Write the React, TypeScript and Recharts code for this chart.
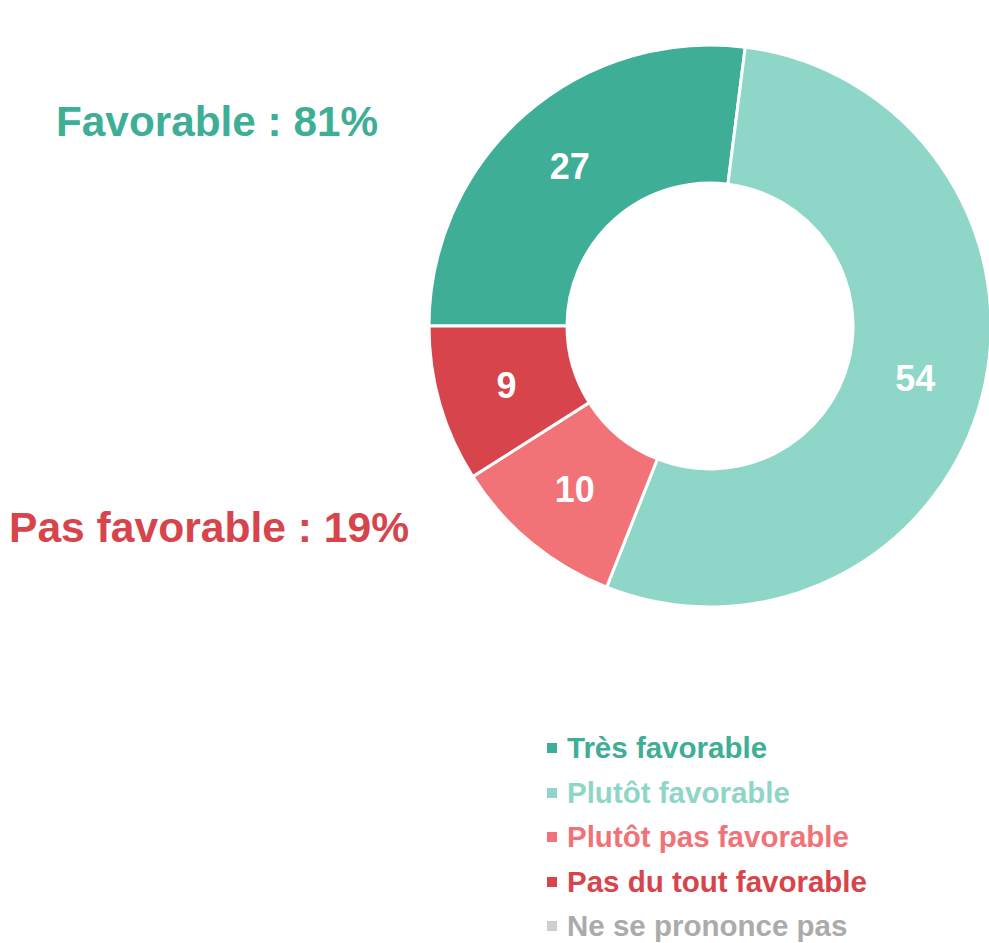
import { Cell, Legend, Pie, PieChart } from 'recharts';

// Opinion split (percent of respondents)
const CATEGORIES = [
  'Très favorable',
  'Plutôt favorable',
  'Plutôt pas favorable',
  'Pas du tout favorable',
  'Ne se prononce pas',
];
const VALUES = [27, 54, 10, 9, 0];
const COLORS = ['#3FAE96', '#8ED6C8', '#F17378', '#D7444B', '#CFCFCF'];
const TEXT_COLORS = ['#3FAE96', '#8ED6C8', '#F17378', '#D7444B', '#ABABAB'];

const FONT = '"Liberation Sans", Arial, sans-serif';
const RAD = Math.PI / 180;

const favorable = VALUES[0] + VALUES[1];
const unfavorable = VALUES[2] + VALUES[3];

const rows = CATEGORIES.map((name, i) => ({ name, value: VALUES[i], color: COLORS[i] }))
  .filter((r) => r.value > 0);

function SliceLabel(props: any) {
  const { cx, cy, midAngle, innerRadius, outerRadius, value } = props;
  const r = (innerRadius + outerRadius) / 2;
  const x = cx + r * Math.cos(-midAngle * RAD);
  const y = cy + r * Math.sin(-midAngle * RAD);
  return (
    <text
      x={x}
      y={y}
      fill="#fff"
      textAnchor="middle"
      dominantBaseline="central"
      style={{ fontFamily: FONT, fontWeight: 700, fontSize: 36 }}
    >
      {value}
    </text>
  );
}

function LegendBlock() {
  return (
    <div style={{ fontFamily: FONT, fontWeight: 700, fontSize: 29.5 }}>
      {CATEGORIES.map((name, i) => (
        <div
          key={name}
          style={{ display: 'flex', alignItems: 'center', height: 44.5, lineHeight: '44.5px' }}
        >
          <span style={{ width: 10, height: 10, background: COLORS[i], marginRight: 10 }} />
          <span style={{ color: TEXT_COLORS[i], whiteSpace: 'nowrap' }}>{name}</span>
        </div>
      ))}
    </div>
  );
}

export default function App() {
  return (
    <div
      style={{
        position: 'fixed',
        left: 0,
        top: 0,
        width: 989,
        height: 943,
        overflow: 'hidden',
        background: '#fff',
        fontFamily: FONT,
      }}
    >
      <PieChart width={989} height={943} margin={{ top: 0, right: 0, bottom: 0, left: 0 }}>
        <Pie
          data={rows}
          dataKey="value"
          nameKey="name"
          cx={710}
          cy={326}
          innerRadius={143}
          outerRadius={281}
          startAngle={180}
          endAngle={-180}
          stroke="#fff"
          strokeWidth={3}
          label={SliceLabel}
          labelLine={false}
          isAnimationActive={false}
        >
          {rows.map((row) => (
            <Cell key={row.name} fill={row.color} />
          ))}
        </Pie>
        <Legend
          content={() => <LegendBlock />}
          wrapperStyle={{ position: 'absolute', left: 547, top: 726, width: 420, bottom: 'auto' }}
        />
      </PieChart>
      <div
        style={{
          position: 'absolute',
          left: 56,
          top: 101,
          fontSize: 42.3,
          lineHeight: '42px',
          fontWeight: 700,
          color: '#3FAE96',
          whiteSpace: 'nowrap',
        }}
      >
        Favorable : {favorable}%
      </div>
      <div
        style={{
          position: 'absolute',
          left: 9,
          top: 506,
          fontSize: 42.6,
          lineHeight: '42px',
          fontWeight: 700,
          color: '#D7444B',
          whiteSpace: 'nowrap',
        }}
      >
        Pas favorable : {unfavorable}%
      </div>
    </div>
  );
}
